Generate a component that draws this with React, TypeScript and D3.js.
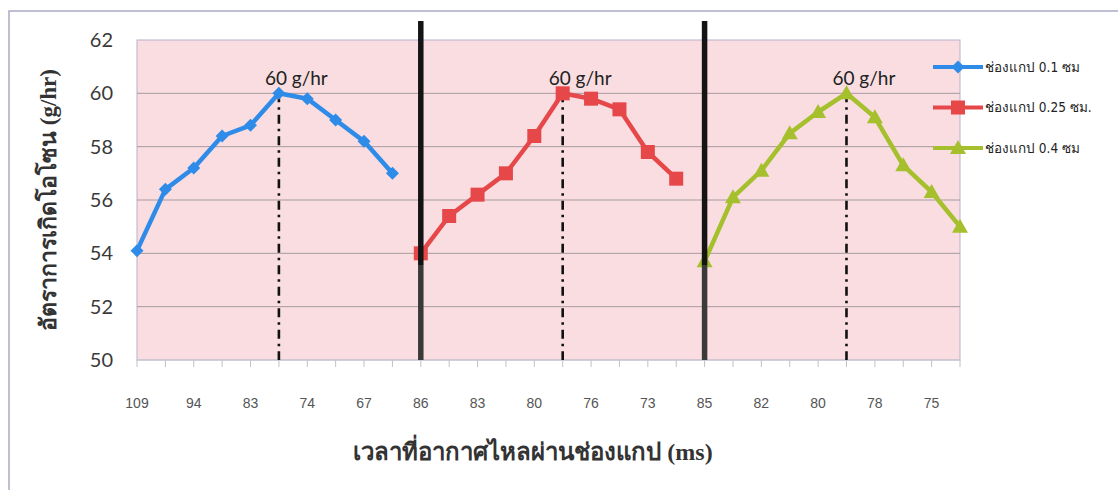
import React from "react";
import * as d3 from "d3";

const categoryCount = 30;
const tickLabels = ["109", "94", "83", "74", "67", "86", "83", "80", "76", "73", "85", "82", "80", "78", "75"];
const yTicks = [50, 52, 54, 56, 58, 60, 62];

const seriesNames = ["ช่องแกป 0.1 ซม", "ช่องแกป 0.25 ซม.", "ช่องแกป 0.4 ซม"];
const gap01 = [54.1, 56.4, 57.2, 58.4, 58.8, 60.0, 59.8, 59.0, 58.2, 57.0];
const gap025 = [54.0, 55.4, 56.2, 57.0, 58.4, 60.0, 59.8, 59.4, 57.8, 56.8];
const gap04 = [53.7, 56.1, 57.1, 58.5, 59.3, 60.0, 59.1, 57.3, 56.3, 55.0];
const seriesStart = [0, 10, 20];
const seriesColors = ["#2f8be8", "#e6484a", "#a5c02c"];
const peakIndex = [5, 15, 25];
const dividerIndex = [10, 20];
const peakLabel = "60 g/hr";
const yTitle = "อัตราการเกิดโอโซน (g/hr)";
const xTitle = "เวลาที่อากาศไหลผ่านช่องแกป (ms)";

const left = 137, right = 960, top = 40, bottom = 360;

export default function App() {
  const x = d3.scaleLinear().domain([0, categoryCount - 1]).range([left, right]);
  const y = d3.scaleLinear().domain([50, 62]).range([bottom, top]);
  const allSeries = [gap01, gap025, gap04];
  const line = d3.line<[number, number]>().x((d) => x(d[0])).y((d) => y(d[1]));

  const marker = (s: number, cx: number, cy: number, key: string) => {
    const c = seriesColors[s];
    if (s === 0) {
      const r = 6.5;
      return <path key={key} d={`M${cx},${cy - r}L${cx + r},${cy}L${cx},${cy + r}L${cx - r},${cy}Z`} fill={c} />;
    }
    if (s === 1) {
      return <rect key={key} x={cx - 7} y={cy - 7} width={14} height={14} fill={c} />;
    }
    return <path key={key} d={`M${cx},${cy - 8}L${cx + 8},${cy + 6}L${cx - 8},${cy + 6}Z`} fill={c} />;
  };

  return (
    <svg width={1118} height={490} style={{ position: "absolute", left: 0, top: 0, background: "#fff" }}>
      <rect x={9} y={11} width={1130} height={500} fill="#fff" stroke="#a9a9c8" strokeWidth={1.5} />
      <rect x={left} y={top} width={right - left} height={bottom - top} fill="#f9dde1" stroke="#b9b0cc" strokeWidth={1} />
      {yTicks.filter((t) => t > 50 && t < 62).map((t) => (
        <line key={t} x1={left} x2={right} y1={y(t)} y2={y(t)} stroke="#a89aa2" strokeWidth={1} />
      ))}
      <line x1={left} x2={right} y1={bottom} y2={bottom} stroke="#c8c8d0" strokeWidth={1.2} />
      {d3.range(categoryCount).map((i) => (
        <line key={i} x1={x(i)} x2={x(i)} y1={bottom} y2={bottom + 7} stroke="#c0c0c8" strokeWidth={1} />
      ))}
      {yTicks.map((t) => (
        <text key={t} x={113} y={y(t)} dy="0.35em" textAnchor="end" fontFamily="Lato, 'Open Sans', sans-serif" fontSize={20} fill="#3a3a3a">{t}</text>
      ))}
      {tickLabels.map((l, i) => (
        <text key={i} x={x(i * 2)} y={403} dy="0.35em" textAnchor="middle" fontFamily="'Liberation Sans', Arial, sans-serif" fontSize={14} fill="#555">{l}</text>
      ))}
      {peakIndex.map((p, i) => (
        <g key={i}>
          <line x1={x(p)} x2={x(p)} y1={y(60)} y2={bottom} stroke="#111" strokeWidth={2.6} strokeDasharray="9,5,2.5,5" />
          <text x={x(p) - 14} y={85} fontFamily="Lato, 'Open Sans', sans-serif" fontSize={19} fill="#222">{peakLabel}</text>
        </g>
      ))}
      {allSeries.map((vals, s) => (
        <g key={s}>
          <path d={line(vals.map((v, j) => [seriesStart[s] + j, v]) as [number, number][]) || ""} fill="none" stroke={seriesColors[s]} strokeWidth={4.5} strokeLinejoin="round" />
          {vals.map((v, j) => marker(s, x(seriesStart[s] + j), y(v), `${s}-${j}`))}
        </g>
      ))}
      {dividerIndex.map((d) => (
        <g key={d}>
          <line x1={x(d)} x2={x(d)} y1={21} y2={265} stroke="#141414" strokeWidth={5.5} />
          <line x1={x(d)} x2={x(d)} y1={265} y2={bottom} stroke="#3a3a3a" strokeWidth={5.5} />
        </g>
      ))}
      {seriesNames.map((n, s) => {
        const ly = 67 + s * 40.5;
        return (
          <g key={s}>
            <line x1={933} x2={983} y1={ly} y2={ly} stroke={seriesColors[s]} strokeWidth={4} />
            {marker(s, 958, ly, `lg${s}`)}
            <text x={985} y={ly} dy="0.35em" fontFamily="'DejaVu Sans Condensed', 'Liberation Sans Narrow', sans-serif" fontSize={13.5} fill="#222">{n}</text>
          </g>
        );
      })}
      <text transform={`translate(48,200) rotate(-90)`} textAnchor="middle" dy="0.35em" fontFamily="'Liberation Serif', 'DejaVu Serif', serif" fontWeight="bold" fontSize={23} fill="#333">{yTitle}</text>
      <text x={533} y={452} textAnchor="middle" dy="0.35em" fontFamily="'Liberation Serif', 'DejaVu Serif', serif" fontWeight="bold" fontSize={24} fill="#333">{xTitle}</text>
    </svg>
  );
}
